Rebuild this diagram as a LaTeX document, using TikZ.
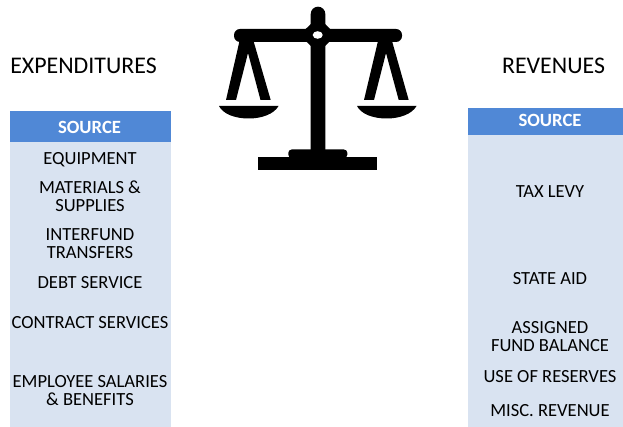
\documentclass[tikz,border=0pt]{standalone}
\usepackage{fontspec}
\setmainfont{Carlito}
\tikzset{
  x=0.75pt,y=-0.75pt,
  band/.style={fill=bandblue,draw=none},
  body/.style={fill=bodyblue,draw=none},
  head/.style={font=\fontsize{14pt}{16pt}\selectfont\bfseries,text=white,anchor=center,inner sep=0pt},
  item/.style={font=\fontsize{13.9pt}{13.6pt}\selectfont,text=black,align=center,anchor=center,inner sep=0pt},
  title/.style={font=\fontsize{17.9pt}{20pt}\selectfont,text=black,anchor=center,inner sep=0pt},
  ink/.style={fill=black,draw=none}
}
\definecolor{bandblue}{HTML}{5088D6}
\definecolor{bodyblue}{HTML}{D9E3F1}
\begin{document}
\begin{tikzpicture}
\useasboundingbox (0,0) rectangle (623,427);
% left table
\fill[body] (10,142) rectangle (171,427);
\fill[band] (10,111) rectangle (171,142);
% right table
\fill[body] (468,135) rectangle (623,427);
\fill[band] (468,108) rectangle (623,135);
\node[title] (exp) at (83.5,65.8) {EXPENDITURES};
\node[title] (rev) at (553.5,65.8) {REVENUES};
\node[head] (ls) at (89.5,127.8) {SOURCE};
\node[head] (rs) at (550,120.8) {SOURCE};
\node[item] (e1) at (90,159.3) {EQUIPMENT};
\node[item] (e2) at (90,196.3) {MATERIALS \&\\SUPPLIES};
\node[item] (e3) at (90,243.3) {INTERFUND\\TRANSFERS};
\node[item] (e4) at (90,283) {DEBT SERVICE};
\node[item] (e5) at (90,323) {CONTRACT SERVICES};
\node[item] (e6) at (90,390.3) {EMPLOYEE SALARIES\\\& BENEFITS};
\node[item] (r1) at (550,191.8) {TAX LEVY};
\node[item] (r2) at (550,279) {STATE AID};
\node[item] (r3) at (550,336.3) {ASSIGNED\\FUND BALANCE};
\node[item] (r4) at (550,376.8) {USE OF RESERVES};
\node[item] (r5) at (550,410.8) {MISC. REVENUE};
% scales
\fill[ink,rounded corners=4.5pt] (234,29) rectangle (402,42);
\fill[ink] (310.7,14) arc[start angle=180,end angle=360,radius=7.3] -- (325.3,150) -- (310.7,150) -- cycle;
\fill[ink] (311,24) -- (325,24) -- (331,30) -- (331,40) -- (325,46) -- (311,46) -- (304.6,40) -- (304.6,30) -- cycle;
\fill[white] (317.7,35) ellipse[x radius=5,y radius=3.8];
% hangers
\fill[ink] (239.5,41) -- (253.5,41) -- (270.7,100) -- (260.5,100) -- (248,53) -- (236,100) -- (226,100) -- cycle;
\fill[ink] (378,41) -- (392,41) -- (408.7,100) -- (398.7,100) -- (386,53) -- (374,100) -- (364,100) -- cycle;
% pans
\fill[ink] (219,106) -- (278.5,106) .. controls (274,114) and (262,118.5) .. (248.7,118.5) .. controls (235,118.5) and (223,114) .. (219,106) -- cycle;
\fill[ink] (357,106) -- (416.5,106) .. controls (412,114) and (400,118.5) .. (386.7,118.5) .. controls (373,118.5) and (361,114) .. (357,106) -- cycle;
% base
\fill[ink,rounded corners=2.5pt] (288.3,158) -- (288.3,149.5) -- (347.3,149.5) -- (347.3,158) -- cycle;
\fill[ink] (258.3,157.5) rectangle (377,170);
\end{tikzpicture}
\end{document}
